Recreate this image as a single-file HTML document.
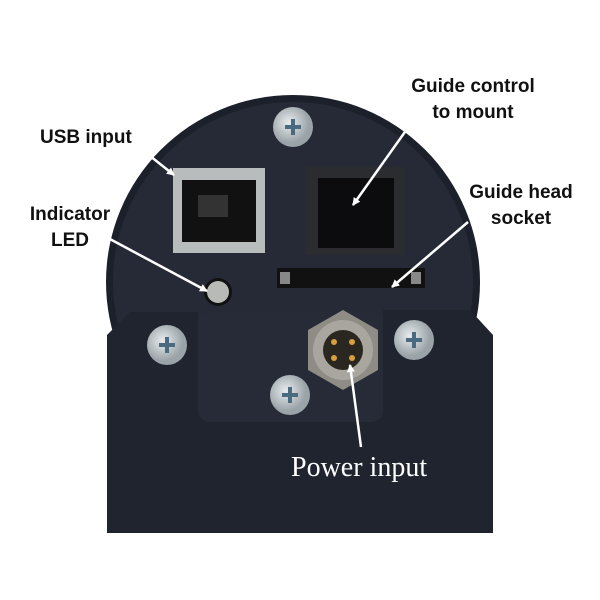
<!DOCTYPE html>
<html><head><style>
body{margin:0;background:#fff;width:600px;height:600px;overflow:hidden}
.t{position:absolute;font-family:"Liberation Sans",sans-serif;font-weight:bold;font-size:19px;color:#111;line-height:26px;white-space:nowrap}
</style></head><body>
<svg width="600" height="600" style="position:absolute;left:0;top:0">
<defs>
<radialGradient id="sc" cx="40%" cy="40%"><stop offset="0" stop-color="#e8ecee"/><stop offset="1" stop-color="#9aa3a8"/></radialGradient>
<marker id="ar" markerWidth="8" markerHeight="8" refX="7" refY="4" orient="auto" markerUnits="userSpaceOnUse"><path d="M0,0 L8,4 L0,8 Z" fill="#fff"/></marker>
<g id="x"><circle r="20" fill="url(#sc)"/><path d="M-8,0 L8,0 M0,-8 L0,8" stroke="#4a6a80" stroke-width="4"/></g>
</defs>
<circle cx="293" cy="282" r="187" fill="#1c202a"/>
<circle cx="293" cy="282" r="180" fill="#262a36"/>
<path d="M130,312 L198,312 L198,410 Q198,422 212,422 L370,422 Q383,422 383,410 L383,310 L470,310 L493,335 L493,533 L107,533 L107,335 Z" fill="#20242f"/>
<rect x="198" y="312" width="185" height="110" rx="12" fill="#272b37"/>
<rect x="173" y="168" width="92" height="85" fill="#b9bcbc"/>
<rect x="182" y="180" width="74" height="62" fill="#111"/>
<rect x="198" y="195" width="30" height="22" fill="#333"/>
<rect x="305" y="167" width="100" height="88" fill="#2a2c30"/>
<rect x="318" y="178" width="76" height="70" fill="#0c0c0e"/>
<rect x="277" y="268" width="148" height="20" fill="#111"/>
<rect x="280" y="272" width="10" height="12" fill="#888"/><rect x="411" y="272" width="10" height="12" fill="#888"/>
<circle cx="218" cy="292" r="14" fill="#111"/><circle cx="218" cy="292" r="11" fill="#b8bab8"/>
<use href="#x" x="293" y="127"/>
<use href="#x" x="167" y="345"/>
<use href="#x" x="414" y="340"/>
<use href="#x" x="290" y="395"/>
<polygon points="343,310 378,330 378,370 343,390 308,370 308,330" fill="#8e8c84"/>
<circle cx="343" cy="350" r="30" fill="#a8a69e"/><circle cx="343" cy="350" r="20" fill="#2a2620"/>
<g fill="#d4a040"><circle cx="334" cy="342" r="3"/><circle cx="352" cy="342" r="3"/><circle cx="334" cy="358" r="3"/><circle cx="352" cy="358" r="3"/></g>
<g stroke="#fff" stroke-width="2.5" fill="none" marker-end="url(#ar)">
<line x1="145" y1="152" x2="174" y2="175"/>
<line x1="108" y1="238" x2="207" y2="291"/>
<line x1="412" y1="122" x2="353" y2="205"/>
<line x1="468" y1="222" x2="392" y2="287"/>
<line x1="361" y1="447" x2="350" y2="365"/>
</g>
</svg>
<div class="t" style="left:40px;top:125px">USB input</div>
<div class="t" style="left:14px;top:202px;text-align:center;width:112px">Indicator<br>LED</div>
<div class="t" style="left:405px;top:74px;text-align:center;width:136px">Guide control<br>to mount</div>
<div class="t" style="left:466px;top:180px;text-align:center;width:110px">Guide head<br>socket</div>
<div style="position:absolute;left:291px;top:452px;font-family:'Liberation Serif',serif;font-size:28px;color:#fff">Power input</div>
</body></html>
